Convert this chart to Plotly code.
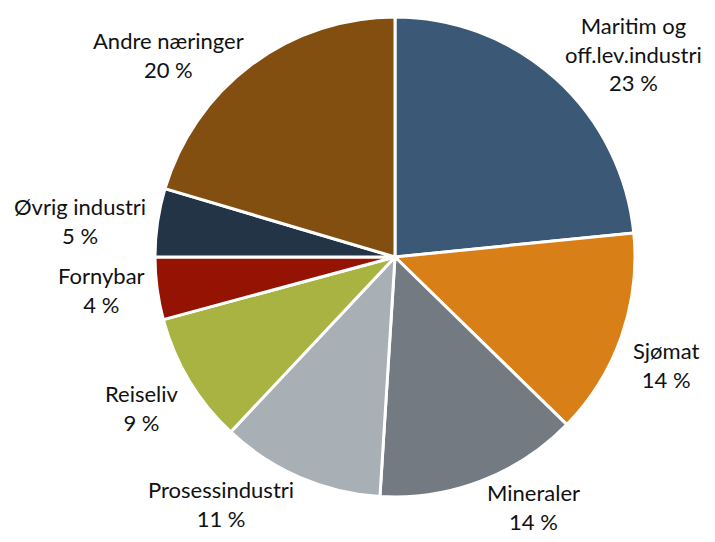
import math
import plotly.graph_objects as go

categories = ["Maritim og<br>off.lev.industri", "Sjømat", "Mineraler", "Prosessindustri",
              "Reiseliv", "Fornybar", "Øvrig industri", "Andre næringer"]
values = [23.4, 13.9, 13.7, 11.0, 8.8, 4.2, 4.6, 20.4]
colors = ["#3B5876", "#D97F17", "#737A82", "#A8AFB5", "#A8B342", "#951303", "#243447", "#834F10"]

W, H = 715, 542
cx, cy, r = 387, 249, 240   # page body adds an 8px offset
Rx, Ry_top, Ry_bot = 250, 215, 236   # label anchor distance from the centre

fig = go.Figure(go.Pie(
    labels=categories,
    values=values,
    textinfo="none",
    sort=False,
    direction="clockwise",
    rotation=0,
    marker=dict(colors=colors, line=dict(color="white", width=3)),
    showlegend=False,
    domain=dict(x=[(cx - r) / W, (cx + r) / W], y=[(H - cy - r) / H, (H - cy + r) / H]),
    hoverinfo="label+percent",
))

# outside labels, placed at each slice's mid-angle (derived from the values)
total = sum(values)
cum = 0.0
annotations = []
for c, v in zip(categories, values):
    mid = (cum + v / 2) / total * 2 * math.pi
    cum += v
    s, co = math.sin(mid), math.cos(mid)
    px = cx + Rx * s
    xa = "left" if s > 0.1 else ("right" if s < -0.1 else "center")
    if co > 0.3:
        ya, py = "bottom", cy - Ry_top * co
    elif co < -0.3:
        ya, py = "top", cy - Ry_bot * co
    else:
        ya, py = "middle", cy - Rx * co
    annotations.append(dict(
        x=px / W, y=1 - py / H, xref="paper", yref="paper",
        text=f"{c}<br>{round(v)} %", showarrow=False,
        xanchor=xa, yanchor=ya, align="center",
        font=dict(family="Lato, Open Sans, sans-serif", size=22, color="#111111"),
    ))

fig.update_layout(
    width=W, height=H,
    margin=dict(l=0, r=0, t=0, b=0),
    paper_bgcolor="white",
    plot_bgcolor="white",
    annotations=annotations,
)

fig.write_html("out.html")
